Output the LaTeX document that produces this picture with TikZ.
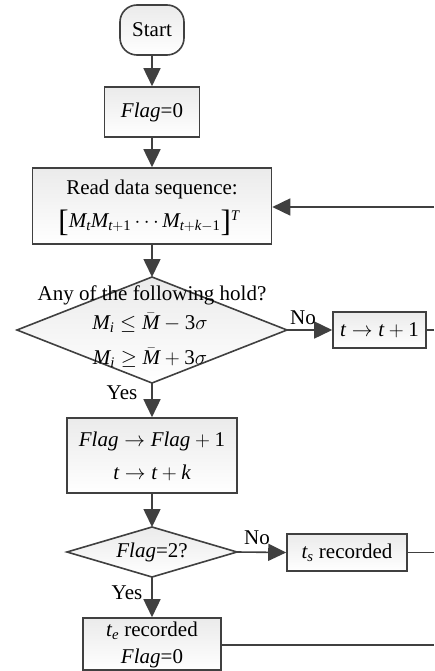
\documentclass[tikz,border=0pt]{standalone}
\usepackage{fontspec}
\setmainfont{Liberation Serif}
\usetikzlibrary{arrows.meta,shadings}
\definecolor{edge}{HTML}{404040}
% italic variables and upright digits taken from the text font
\newcommand\va[1]{\mathit{#1}}
\newcommand\vd[1]{\mathrm{#1}}
% tall square brackets set from the text font
\newcommand\tallbr[1]{\raisebox{-4pt}{\fontsize{31}{31}\selectfont #1}}
\begin{document}
\begin{tikzpicture}[x=1pt,y=-1pt,
  font=\fontsize{21}{25}\selectfont,
  box/.style={draw=edge,line width=1.6pt,top color=gray!16,bottom color=white,
    inner sep=0pt,align=center},
  shapefill/.style={draw=edge,line width=1.6pt,top color=gray!16,bottom color=white},
  flow/.style={draw=edge,line width=1.6pt,-{Triangle[length=18pt,width=17pt]}},
  link/.style={draw=edge,line width=1.6pt},
  lbl/.style={inner sep=0pt}]
\useasboundingbox (0,0) rectangle (434,671);

% terminal and process boxes
\node[box,rounded corners=17pt,minimum width=64pt,minimum height=50pt] (start) at (152,30) {Start};
\node[box,minimum width=95pt,minimum height=50pt] (init) at (152,112) {\textit{Flag}=0};
\node[box,minimum width=239pt,minimum height=76pt] (read) at (152,206) {};
\node[lbl] at (152,189) {Read data sequence:};
\node[lbl] at (149,223) {\tallbr{[}$\va{M}_{\va{t}}\va{M}_{\va{t}+\vd{1}}\cdots \va{M}_{\va{t}+\va{k}-\vd{1}}$\tallbr{]}$^{\va{T}}$};

% first decision
\path[shapefill] (152,277) -- (287,330) -- (152,383) -- (17,330) -- cycle;
\coordinate (d1top) at (152,277);
\coordinate (d1right) at (287,330);
\coordinate (d1bot) at (152,383);
\node[lbl] at (152,295) {Any of the following hold?};
\node[lbl] at (150,323) {$\va{M}_{\va{i}}\le \bar{\va{M}}-\vd{3}\sigma$};
\node[lbl] at (150,358) {$\va{M}_{\va{i}}\ge \bar{\va{M}}+\vd{3}\sigma$};

\node[box,minimum width=93pt,minimum height=36pt] (next) at (379.5,330) {$\va{t}\rightarrow \va{t}+\vd{1}$};

\node[box,minimum width=170pt,minimum height=75pt] (upd) at (152,455.5) {};
\node[lbl] at (152,441) {$\va{Flag}\rightarrow \va{Flag}+\vd{1}$};
\node[lbl] at (152,473) {$\va{t}\rightarrow \va{t}+\va{k}$};

% second decision
\path[shapefill] (152,527) -- (237,552) -- (152,577) -- (67,552) -- cycle;
\coordinate (d2top) at (152,527);
\coordinate (d2right) at (237,552);
\coordinate (d2bot) at (152,577);
\node[lbl] at (152,552) {\textit{Flag}=2?};

\node[box,minimum width=120pt,minimum height=37pt] (ts) at (347,552.5) {$\va{t}_{\va{s}}$ recorded};
\node[box,minimum width=138pt,minimum height=52pt] (te) at (152,644) {};
\node[lbl] at (152,631) {$\va{t}_{\va{e}}$ recorded};
\node[lbl] at (152,658) {\textit{Flag}=0};

% free ends leaving to the right
\coordinate (backin) at (434,207);
\coordinate (nextout) at (434,330);
\coordinate (tsout) at (434,552.5);
\coordinate (teout) at (434,645);

% connectors
\draw[flow] (start) -- (init);
\draw[flow] (init) -- (read);
\draw[flow] (backin) -- (read.east |- backin);
\draw[flow] (read) -- (d1top);
\draw[flow] (d1right) -- (next.west);
\node[lbl] at (303,318) {No};
\draw[link] (next.east) -- (nextout);
\draw[flow] (d1bot) -- (upd.north);
\node[lbl] at (122,393) {Yes};
\draw[flow] (upd) -- (d2top);
\draw[flow] (d2right) -- (ts.west);
\node[lbl] at (257,538) {No};
\draw[link] (ts.east) -- (tsout);
\draw[flow] (d2bot) -- (te.north);
\node[lbl] at (127,593) {Yes};
\draw[link] (te.east |- teout) -- (teout);
\end{tikzpicture}
\end{document}
